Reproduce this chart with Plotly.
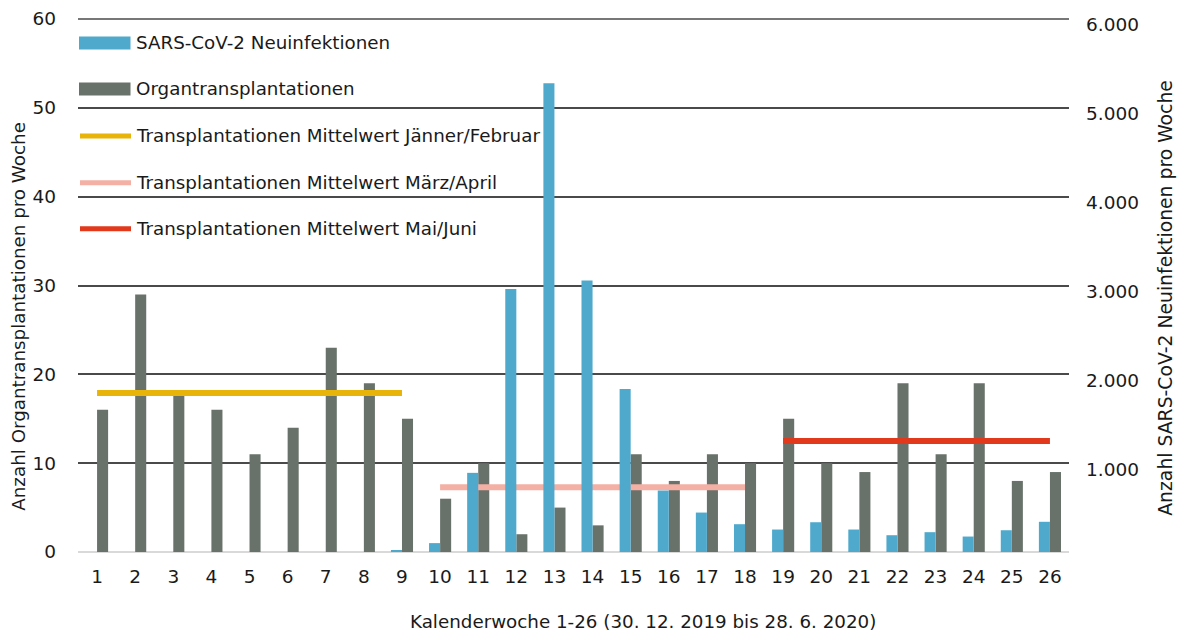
import plotly.graph_objects as go

weeks = list(range(1, 27))
week_labels = [str(w) for w in weeks]
organ_tx = [16, 29, 18, 16, 11, 14, 23, 19, 15, 6, 10, 2, 5, 3, 11, 8, 11, 10,
            15, 10, 9, 19, 11, 19, 8, 9]
sars_cov2 = [0, 0, 0, 0, 0, 0, 0, 0, 15, 100, 891, 2961, 5278, 3057, 1836, 692,
             444, 313, 253, 335, 253, 189, 223, 174, 245, 340]

mean_jan_feb_weeks = [1, 9]
mean_jan_feb = [17.9, 17.9]
mean_mar_apr_weeks = [10, 18]
mean_mar_apr = [7.3, 7.3]
mean_mai_jun_weeks = [19, 26]
mean_mai_jun = [12.5, 12.5]

left_ticks = [0, 10, 20, 30, 40, 50, 60]
right_ticks = [1000, 2000, 3000, 4000, 5000, 6000]
right_tick_labels = ["1.000", "2.000", "3.000", "4.000", "5.000", "6.000"]

legend_names = [
    "SARS-CoV-2 Neuinfektionen",
    "Organtransplantationen",
    "Transplantationen Mittelwert Jänner/Februar",
    "Transplantationen Mittelwert März/April",
    "Transplantationen Mittelwert Mai/Juni",
]

C_BLUE = "#4FA9CC"
C_GRAY = "#68726A"
C_YEL = "#E8B40A"
C_PINK = "#F4B0A4"
C_RED = "#E2381B"
FONT = "DejaVu Sans"
TXT = "#1a1a1a"

W, H = 1184, 633
L, R, T, B = 78, 1069, 19, 552.5


def px(x):
    return (x - L) / (R - L)


def py(y):
    return (B - y) / (B - T)


bw = 0.29
fig = go.Figure()
fig.add_trace(go.Bar(x=weeks, y=sars_cov2, width=bw, offset=-bw, marker_color=C_BLUE,
                     marker_line_width=0, yaxis="y2", name=legend_names[0], showlegend=False))
fig.add_trace(go.Bar(x=weeks, y=organ_tx, width=bw, offset=0, marker_color=C_GRAY,
                     marker_line_width=0, yaxis="y", name=legend_names[1], showlegend=False))
for xs, ys, c, n in [(mean_jan_feb_weeks, mean_jan_feb, C_YEL, legend_names[2]),
                     (mean_mar_apr_weeks, mean_mar_apr, C_PINK, legend_names[3]),
                     (mean_mai_jun_weeks, mean_mai_jun, C_RED, legend_names[4])]:
    fig.add_trace(go.Scatter(x=xs, y=ys, mode="lines", line=dict(color=c, width=6),
                             yaxis="y", name=n, showlegend=False))

shapes = [dict(type="line", xref="paper", yref="paper", x0=0, x1=1, y0=1, y1=1,
               line=dict(color="#4a4a4a", width=1.5), layer="below")]
annotations = []
legend_y = [43, 89, 136, 183, 229]
colors = [C_BLUE, C_GRAY, C_YEL, C_PINK, C_RED]
for i, (name, c, yy) in enumerate(zip(legend_names, colors, legend_y)):
    if i < 2:
        shapes.append(dict(type="rect", xref="paper", yref="paper",
                           x0=px(79), x1=px(130.5), y0=py(yy - 6.5), y1=py(yy + 6.5),
                           fillcolor=c, line_width=0, layer="above"))
    else:
        shapes.append(dict(type="line", xref="paper", yref="paper",
                           x0=px(80), x1=px(131), y0=py(yy), y1=py(yy),
                           line=dict(color=c, width=5), layer="above"))
    annotations.append(dict(text=name, xref="paper", yref="paper", x=px(134), y=py(yy),
                            xanchor="left", yanchor="middle", showarrow=False,
                            font=dict(family=FONT, size=18.3, color=TXT)))

annotations.append(dict(text="Kalenderwoche 1-26 (30. 12. 2019 bis 28. 6. 2020)",
                        xref="paper", yref="paper", x=px(643), y=py(622),
                        xanchor="center", yanchor="middle", showarrow=False,
                        font=dict(family=FONT, size=18.3, color=TXT)))
annotations.append(dict(text="Anzahl Organtransplantationen pro Woche",
                        xref="paper", yref="paper", x=px(19), y=py(317), textangle=-90,
                        xanchor="center", yanchor="middle", showarrow=False,
                        font=dict(family=FONT, size=18.3, color=TXT)))
annotations.append(dict(text="Anzahl SARS-CoV-2 Neuinfektionen pro Woche",
                        xref="paper", yref="paper", x=px(1166), y=py(298), textangle=-90,
                        xanchor="center", yanchor="middle", showarrow=False,
                        font=dict(family=FONT, size=18.8, color=TXT)))

fig.update_layout(
    width=W, height=H,
    margin=dict(l=L, r=W - R, t=T, b=H - B, autoexpand=False),
    paper_bgcolor="white", plot_bgcolor="white",
    barmode="overlay",
    showlegend=False,
    font=dict(family=FONT, size=18, color=TXT),
    xaxis=dict(range=[0.5, 26.5], tickvals=weeks, ticktext=week_labels,
               showgrid=False, zeroline=False, showline=False, ticks="",
               automargin=False, ticklabelstandoff=11, tickfont=dict(size=18.5, color=TXT)),
    yaxis=dict(range=[0, 60], tickvals=left_ticks, showgrid=True,
               gridcolor="#4a4a4a", gridwidth=1.5, zeroline=True,
               zerolinecolor="#d9d9d9", zerolinewidth=2, showline=False, ticks="",
               automargin=False, ticklabelstandoff=21, tickfont=dict(size=18.5, color=TXT)),
    yaxis2=dict(range=[0, 6000], overlaying="y", side="right", tickvals=right_ticks,
                ticktext=right_tick_labels, showgrid=False, zeroline=False,
                showline=False, ticks="", automargin=False, ticklabelstandoff=16,
                ticklabelshift=6, tickfont=dict(size=18.5, color=TXT)),
    shapes=shapes,
    annotations=annotations,
)

fig.write_html("out.html", post_script="document.body.style.margin='0';",
               config={"displayModeBar": False})
